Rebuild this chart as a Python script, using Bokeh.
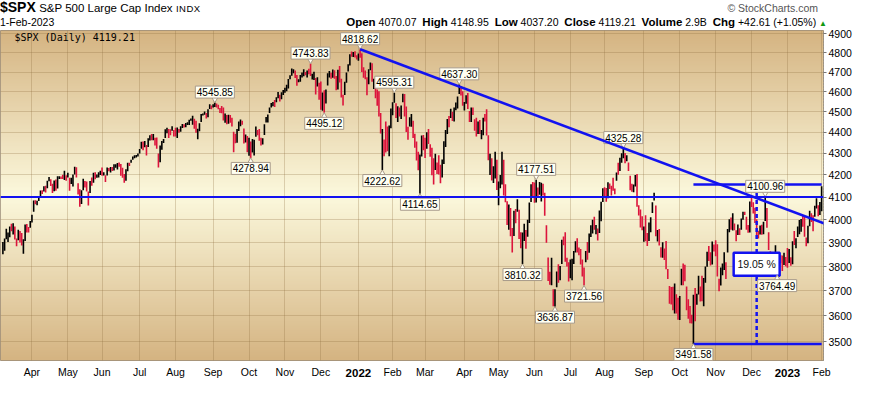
import numpy as np
import pandas as pd
from bokeh.plotting import figure
from bokeh.layouts import column
from bokeh.models import (ColumnDataSource, FixedTicker, NumeralTickFormatter,
                          Span, Arrow, Label, Div, LinearAxis)
from bokeh.embed import file_html
from bokeh.resources import INLINE
from bokeh.core.properties import value

# ---------------- header values ----------------
SYMBOL = "$SPX"
NAME = "S&amp;P 500 Large Cap Index"
EXCHANGE = "INDX"
LAST_DATE = "1-Feb-2023"
LAST_OPEN = 4070.07
LAST_HIGH = 4148.95
LAST_LOW = 4037.20
LAST_CLOSE = 4119.21
LAST_VOLUME = "2.9B"
LAST_CHG = 42.61
LAST_CHG_PCT = 1.05

# ---------------- daily data ----------------
START = "2021-03-09"
END = "2023-02-01"
HOLIDAYS = ["2021-04-02", "2021-05-31", "2021-07-05", "2021-09-06", "2021-11-25", "2021-12-24",
            "2022-01-17", "2022-02-21", "2022-04-15", "2022-05-30", "2022-06-20", "2022-07-04",
            "2022-09-05", "2022-11-24", "2022-12-26", "2023-01-02", "2023-01-16"]

HIGH = [
    # Mar 2021
    3903, 3918, 3960, 3944, 3970, 3982, 3984, 3970, 3918, 3956, 3950, 3942, 3915, 3979, 3981, 3968, 3994,
    # Apr 2021
    4021, 4084, 4086, 4083, 4098, 4129, 4131, 4148, 4151, 4173, 4191, 4180, 4160, 4175, 4179, 4194, 4194, 4193, 4201, 4219, 4199,
    # May 2021
    4210, 4187, 4187, 4202, 4238, 4236, 4162, 4135, 4131, 4183, 4172, 4170, 4125, 4172, 4188, 4210, 4213, 4202, 4213, 4219,
    # Jun 2021
    4234, 4213, 4199, 4234, 4232, 4237, 4237, 4249, 4249, 4255, 4258, 4251, 4233, 4204, 4226, 4256, 4256, 4271, 4286, 4292, 4293, 4300,
    # Jul 2021
    4321, 4355, 4356, 4359, 4340, 4372, 4387, 4393, 4393, 4375, 4376, 4300, 4337, 4359, 4369, 4415, 4423, 4416, 4415, 4430, 4412,
    # Aug 2021
    4423, 4424, 4417, 4430, 4441, 4439, 4446, 4449, 4461, 4468, 4481, 4466, 4456, 4418, 4444, 4489, 4492, 4502, 4495, 4513, 4537, 4532,
    # Sep 2021
    4537, 4545.85, 4541, 4535, 4519, 4529, 4521, 4492, 4485, 4486, 4485, 4471, 4403, 4394, 4416, 4453, 4463, 4457, 4419, 4390, 4383,
    # Oct 2021
    4375, 4356, 4369, 4365, 4429, 4412, 4416, 4375, 4372, 4439, 4475, 4487, 4521, 4544, 4549, 4559, 4572, 4599, 4585, 4597, 4609,
    # Nov 2021
    4620, 4636, 4664, 4684, 4718, 4715, 4708, 4685, 4663, 4685, 4698, 4714, 4701, 4708, 4717, 4743.83, 4691, 4702, 4670, 4673, 4646,
    # Dec 2021
    4652, 4596, 4608, 4612, 4694, 4705, 4696, 4713, 4710, 4680, 4712, 4732, 4666, 4585, 4651, 4698, 4740, 4792, 4807, 4804, 4808, 4787,
    # Jan 2022
    4797, 4818.62, 4798, 4725, 4708, 4673, 4714, 4749, 4745, 4666, 4632, 4611, 4602, 4495, 4417, 4366, 4453, 4429, 4433, 4517,
    # Feb 2022
    4547, 4595.31, 4542, 4528, 4522, 4531, 4590, 4589, 4527, 4427, 4473, 4490, 4456, 4394, 4357, 4308, 4295, 4385, 4388,
    # Mar 2022
    4375, 4401, 4416, 4343, 4327, 4277, 4299, 4258, 4292, 4247, 4272, 4358, 4412, 4465, 4480, 4515, 4500, 4521, 4546, 4576, 4637.30, 4628, 4603,
    # Apr 2022
    4549, 4583, 4594, 4504, 4521, 4521, 4464, 4471, 4453, 4460, 4412, 4471, 4489, 4513, 4386, 4299, 4278, 4240, 4308, 4270,
    # May 2022
    4170, 4200, 4308, 4270, 4158, 4081, 4067, 4051, 3964, 4039, 4047, 4090, 4043, 3945, 3944, 3982, 3955, 3999, 4075, 4158, 4168,
    # Jun 2022
    4166, 4177.51, 4143, 4168, 4164, 4160, 4119, 3975, 3838, 3778, 3837, 3707, 3707, 3779, 3809, 3802, 3913, 3927, 3945, 3837, 3818,
    # Jul 2022
    3829, 3832, 3865, 3906, 3919, 3880, 3873, 3829, 3796, 3865, 3903, 3940, 3975, 3999, 4013, 3976, 3961, 4040, 4079, 4140,
    # Aug 2022
    4144, 4141, 4167, 4161, 4151, 4187, 4138, 4211, 4257, 4280, 4301, 4325.28, 4302, 4292, 4258, 4196, 4160, 4157, 4200, 4204, 4063, 4044, 4015,
    # Sep 2022
    3970, 4019, 3942, 3987, 4010, 4077, 4119, 4062, 3955, 3959, 3881, 3902, 3876, 3907, 3790, 3720, 3716, 3717, 3730, 3687, 3672,
    # Oct 2022
    3680, 3791, 3813, 3807, 3718, 3666, 3640, 3605, 3685, 3712, 3689, 3762, 3718, 3762, 3753, 3800, 3862, 3886, 3860, 3905, 3893,
    # Nov 2022
    3911, 3894, 3750, 3796, 3813, 3860, 3818, 3959, 4002, 4009, 4028, 3983, 3954, 3979, 3962, 4005, 4034, 4034, 4012, 3976, 4080,
    # Dec 2022
    4100, 4077, 4052, 4002, 3952, 3974, 3978, 3991, 4100.96, 4051, 3945, 3864, 3855, 3838, 3889, 3842, 3846, 3847, 3846, 3858, 3840,
    # Jan 2023
    3878, 3874, 3839, 3906, 3951, 3919, 3970, 3998, 4003, 4016, 4015, 3922, 3973, 4039, 4028, 4019, 4061, 4095, 4063, 4078,
    # Feb 2023
    4148.95,
]

LOW = [
    # Mar 2021
    3851, 3866, 3915, 3903, 3924, 3949, 3935, 3914, 3885, 3911, 3901, 3888, 3853, 3908, 3944, 3944, 3965,
    # Apr 2021
    3987, 4034, 4068, 4063, 4082, 4096, 4114, 4125, 4120, 4140, 4171, 4150, 4118, 4126, 4128, 4138, 4182, 4181, 4181, 4177, 4174,
    # May 2021
    4188, 4128, 4159, 4147, 4202, 4188, 4111, 4057, 4069, 4131, 4143, 4125, 4062, 4118, 4151, 4164, 4180, 4187, 4188, 4200,
    # Jun 2021
    4197, 4198, 4168, 4198, 4217, 4211, 4218, 4221, 4233, 4225, 4238, 4196, 4187, 4165, 4173, 4217, 4241, 4257, 4271, 4278, 4281, 4286,
    # Jul 2021
    4300, 4322, 4315, 4329, 4290, 4331, 4361, 4362, 4363, 4338, 4322, 4234, 4259, 4317, 4350, 4373, 4396, 4373, 4386, 4408, 4381,
    # Aug 2021
    4381, 4373, 4398, 4403, 4421, 4424, 4425, 4436, 4436, 4456, 4437, 4418, 4398, 4367, 4406, 4451, 4482, 4486, 4468, 4474, 4514, 4513,
    # Sep 2021
    4521, 4524, 4521, 4513, 4494, 4493, 4458, 4447, 4439, 4442, 4447, 4428, 4306, 4348, 4351, 4407, 4430, 4437, 4347, 4352, 4306,
    # Oct 2021
    4289, 4278.94, 4305, 4290, 4379, 4386, 4360, 4338, 4342, 4388, 4448, 4448, 4495, 4522, 4528, 4524, 4547, 4568, 4551, 4562, 4584,
    # Nov 2021
    4595, 4603, 4616, 4663, 4681, 4694, 4670, 4630, 4648, 4651, 4672, 4679, 4684, 4672, 4689, 4680, 4662, 4659, 4586, 4626, 4560,
    # Dec 2021
    4511, 4505, 4495.12, 4541, 4632, 4672, 4666, 4671, 4666, 4607, 4611, 4647, 4571, 4531, 4584, 4645, 4703, 4734, 4780, 4778, 4775, 4765,
    # Jan 2022
    4758, 4774, 4700, 4671, 4663, 4582, 4638, 4710, 4650, 4614, 4568, 4530, 4477, 4395, 4222.62, 4287, 4304, 4310, 4287, 4420,
    # Feb 2022
    4483, 4545, 4470, 4450, 4477, 4465, 4548, 4477, 4402, 4365, 4429, 4427, 4373, 4327, 4267, 4222, 4114.65, 4286, 4315,
    # Mar 2022
    4279, 4322, 4345, 4284, 4199, 4157, 4223, 4205, 4202, 4162, 4188, 4251, 4330, 4393, 4425, 4470, 4455, 4453, 4508, 4517, 4589, 4581, 4530,
    # Apr 2022
    4507, 4540, 4514, 4451, 4450, 4485, 4408, 4381, 4392, 4392, 4367, 4387, 4453, 4385, 4268, 4200, 4175, 4163, 4184, 4132,
    # May 2022
    4063, 4140, 4157, 4107, 4077, 3976, 3956, 3928, 3859, 3929, 3984, 4034, 3916, 3877, 3810.32, 3908, 3875, 3926, 3985, 4078, 4104,
    # Jun 2022
    4074, 4075, 4098, 4110, 4080, 4107, 4017, 3900, 3740, 3725, 3723, 3639, 3636.87, 3715, 3733, 3743, 3810, 3889, 3820, 3800, 3738,
    # Jul 2022
    3752, 3743, 3811, 3859, 3859, 3847, 3808, 3759, 3721.56, 3818, 3828, 3858, 3925, 3940, 3956, 3937, 3910, 3942, 3993, 4078,
    # Aug 2022
    4097, 4079, 4095, 4136, 4107, 4128, 4112, 4174, 4201, 4218, 4256, 4277, 4254, 4263, 4218, 4130, 4124, 4121, 4147, 4057, 4018, 3966, 3954,
    # Sep 2022
    3904, 3906, 3886, 3907, 3945, 4029, 4084, 3928, 3905, 3888, 3838, 3837, 3827, 3789, 3749, 3648, 3645, 3623, 3610, 3610, 3585,
    # Oct 2022
    3584, 3723, 3723, 3739, 3623, 3589, 3572, 3571, 3491.58, 3579, 3644, 3686, 3657, 3658, 3639, 3733, 3799, 3823, 3804, 3808, 3863,
    # Nov 2022
    3843, 3759, 3699, 3722, 3764, 3786, 3749, 3859, 3945, 3956, 3953, 3954, 3906, 3933, 3933, 3956, 3999, 4020, 3956, 3943, 3944,
    # Dec 2022
    4056, 4027, 3985, 3919, 3918, 3935, 3934, 3937, 3994, 3965, 3869, 3828, 3806, 3796, 3828, 3764.49, 3798, 3814, 3781, 3806, 3801,
    # Jan 2023
    3795, 3815, 3803, 3809, 3890, 3877, 3925, 3937, 3947, 3969, 3926, 3885, 3898, 3971, 3990, 3949, 4013, 4049, 4015, 4020,
    # Feb 2023
    4037.20,
]

CLOSE = [
    # Mar 2021
    3875, 3898, 3939, 3943, 3969, 3963, 3974, 3915, 3913, 3941, 3911, 3889, 3910, 3975, 3971, 3959, 3973,
    # Apr 2021
    4020, 4078, 4074, 4080, 4097, 4129, 4128, 4142, 4125, 4170, 4185, 4163, 4135, 4173, 4135, 4180, 4188, 4187, 4183, 4211, 4181,
    # May 2021
    4192, 4165, 4168, 4201, 4233, 4189, 4152, 4063, 4113, 4174, 4164, 4128, 4116, 4160, 4156, 4198, 4188, 4196, 4201, 4204,
    # Jun 2021
    4202, 4208, 4192, 4230, 4226, 4227, 4220, 4239, 4247, 4255, 4246, 4224, 4222, 4166, 4224, 4246, 4242, 4266, 4281, 4291, 4291, 4298,
    # Jul 2021
    4320, 4352, 4344, 4358, 4320, 4370, 4385, 4369, 4374, 4360, 4327, 4259, 4324, 4359, 4368, 4412, 4422, 4401, 4400, 4419, 4395,
    # Aug 2021
    4387, 4423, 4403, 4429, 4437, 4432, 4436, 4448, 4460, 4468, 4479, 4448, 4400, 4406, 4442, 4480, 4486, 4496, 4470, 4509, 4529, 4523,
    # Sep 2021
    4524, 4537, 4535, 4520, 4514, 4493, 4459, 4469, 4443, 4481, 4474, 4433, 4358, 4355, 4396, 4449, 4455, 4443, 4353, 4360, 4308,
    # Oct 2021
    4357, 4300, 4345, 4363, 4399, 4391, 4361, 4350, 4364, 4438, 4471, 4486, 4519, 4537, 4549, 4545, 4567, 4575, 4551, 4596, 4605,
    # Nov 2021
    4614, 4631, 4660, 4680, 4697, 4701, 4685, 4646, 4649, 4683, 4683, 4701, 4688, 4704, 4698, 4682, 4691, 4701, 4595, 4655, 4567,
    # Dec 2021
    4513, 4577, 4538, 4592, 4686, 4701, 4668, 4712, 4669, 4635, 4710, 4669, 4621, 4568, 4650, 4697, 4726, 4792, 4786, 4793, 4778, 4766,
    # Jan 2022
    4797, 4794, 4701, 4696, 4677, 4670, 4713, 4726, 4659, 4663, 4577, 4533, 4483, 4398, 4410, 4357, 4350, 4327, 4432, 4516,
    # Feb 2022
    4546, 4589, 4477, 4501, 4484, 4521, 4587, 4504, 4419, 4401, 4472, 4475, 4380, 4349, 4305, 4226, 4288, 4385, 4374,
    # Mar 2022
    4306, 4387, 4363, 4329, 4201, 4171, 4278, 4260, 4204, 4173, 4262, 4358, 4412, 4463, 4461, 4512, 4456, 4520, 4543, 4575, 4632, 4602, 4530,
    # Apr 2022
    4546, 4583, 4525, 4481, 4500, 4488, 4413, 4397, 4447, 4392, 4392, 4463, 4460, 4394, 4272, 4297, 4175, 4184, 4288, 4132,
    # May 2022
    4155, 4175, 4300, 4147, 4123, 3991, 4001, 3935, 3930, 4024, 4008, 4089, 3923, 3901, 3901, 3974, 3941, 3979, 4058, 4158, 4132,
    # Jun 2022
    4101, 4176, 4109, 4121, 4161, 4116, 4018, 3901, 3750, 3735, 3790, 3667, 3675, 3765, 3760, 3796, 3912, 3901, 3821, 3819, 3785,
    # Jul 2022
    3825, 3831, 3845, 3903, 3899, 3855, 3819, 3801, 3790, 3863, 3831, 3937, 3960, 3999, 3962, 3967, 3921, 4024, 4072, 4130,
    # Aug 2022
    4119, 4091, 4155, 4152, 4145, 4140, 4122, 4210, 4208, 4280, 4297, 4305, 4275, 4284, 4228, 4138, 4128, 4141, 4199, 4058, 4031, 3986, 3955,
    # Sep 2022
    3967, 3924, 3909, 3980, 4006, 4067, 4110, 3932, 3946, 3901, 3873, 3900, 3856, 3790, 3758, 3693, 3655, 3647, 3719, 3640, 3586,
    # Oct 2022
    3678, 3791, 3783, 3745, 3640, 3612, 3589, 3577, 3670, 3583, 3677, 3720, 3695, 3666, 3752, 3797, 3859, 3831, 3807, 3901, 3872,
    # Nov 2022
    3856, 3760, 3720, 3771, 3807, 3828, 3749, 3956, 3993, 3957, 3992, 3959, 3947, 3965, 3950, 4003, 4027, 4026, 3964, 3958, 4080,
    # Dec 2022
    4077, 4072, 3999, 3941, 3933, 3964, 3934, 3991, 4019, 3995, 3896, 3852, 3818, 3821, 3879, 3823, 3845, 3829, 3783, 3849, 3840,
    # Jan 2023
    3825, 3853, 3808, 3895, 3893, 3919, 3970, 3983, 3999, 3991, 3929, 3899, 3973, 4020, 4017, 4016, 4060, 4071, 4018, 4077,
    # Feb 2023
    4119.21,
]

Y_TICKS = [3500, 3600, 3700, 3800, 3900, 4000, 4100, 4200, 4300, 4400, 4500, 4600, 4700, 4800, 4900]
Y_MIN, Y_MAX = 3429, 4918.6

LABEL_DATES = ["2021-09-02", "2021-10-04", "2021-11-22", "2021-12-03", "2022-01-04", "2022-01-24",
               "2022-02-02", "2022-02-24", "2022-03-29", "2022-05-20", "2022-06-02", "2022-06-17",
               "2022-07-14", "2022-08-16", "2022-10-13", "2022-12-13", "2022-12-22"]
LABEL_SIDES = ["high", "low", "high", "low", "high", "low", "high", "low", "high", "low", "high", "low",
               "low", "high", "low", "high", "low"]

HLINE_LEVEL = 4100
TREND_DATES = ["2022-01-04", "2022-08-16"]
RANGE_START = "2022-10-13"
MEASURE_DATE = "2022-12-06"
MEASURE_PCT = 19.05

# ---------------- derived ----------------
dates = pd.bdate_range(START, END, freq="C", holidays=HOLIDAYS)
n = len(dates)
assert len(HIGH) == len(LOW) == len(CLOSE) == n, (len(HIGH), len(LOW), len(CLOSE), n)
date_idx = {d.strftime("%Y-%m-%d"): i for i, d in enumerate(dates)}

UP, DOWN, BLUE = "#000000", "#dc143c", "#1212f0"
colors = [UP] + [UP if CLOSE[i] >= CLOSE[i - 1] else DOWN for i in range(1, n)]
src = ColumnDataSource(dict(x=list(range(n)), hi=HIGH, lo=LOW, color=colors))

month_ticks = [i for i in range(1, n) if dates[i].month != dates[i - 1].month]
month_labels = {i: ("" if dates[i].month == 1 else dates[i].strftime("%b")) for i in month_ticks}
year_ticks = [i for i in month_ticks if dates[i].month == 1]
year_labels = {i: str(dates[i].year) for i in year_ticks}

FRAME_W, FRAME_H = 823, 330
X0, X1 = -1.4, n + 0.1
PPL = FRAME_H / np.log(Y_MAX / Y_MIN)   # pixels per log unit

p = figure(frame_width=FRAME_W, frame_height=FRAME_H, output_backend="svg", toolbar_location=None,
           x_range=(X0, X1), y_range=(Y_MIN, Y_MAX), y_axis_type="log", y_axis_location="right",
           min_border_left=0, min_border_right=32, min_border_top=2, min_border_bottom=18,
           background_fill_color="#fcf9dc", border_fill_color="white")
p.outline_line_color = "#9a8b78"

# gradient background
NG = 256
t = np.abs(np.linspace(-1.0, 1.0, NG))
tan = np.array([213, 180, 130], dtype=float)
cream = np.array([252, 249, 221], dtype=float)
cols = cream[None, :] * (1 - t[:, None]) + tan[None, :] * t[:, None]
img = np.zeros((NG, 1), dtype=np.uint32)
view = img.view(dtype=np.uint8).reshape((NG, 1, 4))
view[:, 0, 0] = cols[:, 0].astype(np.uint8)
view[:, 0, 1] = cols[:, 1].astype(np.uint8)
view[:, 0, 2] = cols[:, 2].astype(np.uint8)
view[:, 0, 3] = 255
p.image_rgba(image=[img], x=X0, y=Y_MIN, dw=X1 - X0, dh=Y_MAX - Y_MIN, level="image")

# axes
yt = FixedTicker(ticks=Y_TICKS)
p.yaxis.ticker = yt
p.ygrid.ticker = yt
p.yaxis.formatter = NumeralTickFormatter(format="0")
p.yaxis.major_tick_out = 3
p.yaxis.major_tick_in = 0
p.yaxis.minor_tick_line_color = None
p.yaxis.major_label_standoff = 2
p.yaxis.axis_line_color = "#8a8a8a"
p.yaxis.axis_line_dash = "1 2"
p.yaxis.major_tick_line_color = "#777777"
p.yaxis.major_label_text_font = "Liberation Sans"
p.yaxis.major_label_text_font_size = "10.5px"
p.yaxis.major_label_text_color = "#000000"

xt = FixedTicker(ticks=month_ticks)
xaxis = p.xaxis[0]
xaxis.ticker = xt
p.xgrid.ticker = xt
xaxis.major_label_overrides = month_labels
xaxis.major_tick_out = 0
xaxis.major_tick_in = 0
xaxis.minor_tick_line_color = None
xaxis.axis_line_color = None
xaxis.major_label_standoff = 5
xaxis.major_label_text_font = "Liberation Sans"
xaxis.major_label_text_font_size = "10.5px"
xaxis.major_label_text_color = "#000000"

# bold year labels: a second axis pulled up into the month-label row
yaxis_years = LinearAxis(ticker=FixedTicker(ticks=year_ticks), major_label_overrides=year_labels,
                         major_tick_out=0, major_tick_in=0, minor_tick_line_color=None,
                         axis_line_color=None, major_label_standoff=-12,
                         major_label_text_font="Liberation Sans", major_label_text_font_style="bold",
                         major_label_text_font_size="11.5px", major_label_text_color="#000000")
p.add_layout(yaxis_years, "below")

for g in (p.xgrid, p.ygrid):
    g.grid_line_color = "#8c6a3c"
    g.grid_line_alpha = 0.28

# price bars
p.segment(x0="x", y0="lo", x1="x", y1="hi", color="color", line_width=1.6, source=src)

# horizontal support/resistance line
p.add_layout(Span(location=HLINE_LEVEL, dimension="width", line_color=BLUE, line_width=2))

# trend line through two highs, extended to the right
i1, i2 = date_idx[TREND_DATES[0]], date_idx[TREND_DATES[1]]
v1, v2 = HIGH[i1], HIGH[i2]
slope = (np.log(v2) - np.log(v1)) / (i2 - i1)
x_far = n + 30
y_far = float(np.exp(np.log(v1) + slope * (x_far - i1)))
p.add_layout(Arrow(end=None, x_start=i1, y_start=v1, x_end=x_far, y_end=y_far,
                   line_color=BLUE, line_width=2.5))

# range measurement
ir = date_idx[RANGE_START]
il = n - 1
r_low = LOW[ir]
r_top = r_low * (1 + MEASURE_PCT / 100.0)
im = date_idx[MEASURE_DATE]
p.segment(x0=[ir, ir], y0=[r_low, r_top], x1=[il, il], y1=[r_low, r_top], line_color=BLUE, line_width=2.5)
p.segment(x0=[im], y0=[r_low], x1=[im], y1=[r_top], line_color=BLUE, line_width=2.5, line_dash="4 3")
r_mid = float(np.sqrt(r_low * r_top))
p.rect(x=[im], y=[r_mid], width=46, height=23, width_units="screen", height_units="screen",
       fill_color="white", line_color=BLUE, line_width=2.5)
p.text(x=[im], y=[r_mid], text=["%.2f %%" % MEASURE_PCT], text_align="center", text_baseline="middle",
       text_font=value("Liberation Sans"), text_font_size="10.5px", text_color="#111111")

# high / low labels
lx, lbox, ltxt = [], [], []
ltri_up, ltri_dn, ltri_up_x, ltri_dn_x = [], [], [], []
for d, side in zip(LABEL_DATES, LABEL_SIDES):
    i = date_idx[d]
    v = HIGH[i] if side == "high" else LOW[i]
    sgn = 1 if side == "high" else -1
    lx.append(i)
    lbox.append(v * np.exp(sgn * 10.5 / PPL))
    ltxt.append("%.2f" % v)
    if side == "high":
        ltri_dn.append(v * np.exp(4.5 / PPL)); ltri_dn_x.append(i)
    else:
        ltri_up.append(v * np.exp(-4.5 / PPL)); ltri_up_x.append(i)

BOX_FILL, BOX_LINE = "#fffff2", "#a89a8a"
p.scatter(x=ltri_dn_x, y=ltri_dn, marker="inverted_triangle", size=8, fill_color=BOX_FILL, line_color=BOX_LINE)
p.scatter(x=ltri_up_x, y=ltri_up, marker="triangle", size=8, fill_color=BOX_FILL, line_color=BOX_LINE)
p.rect(x=lx, y=lbox, width=39, height=12, width_units="screen", height_units="screen",
       fill_color=BOX_FILL, line_color=BOX_LINE, line_width=1)
p.text(x=lx, y=lbox, text=ltxt, text_align="center", text_baseline="middle",
       text_font=value("Liberation Sans"), text_font_size="10px", text_color="#000000")

# in-plot title
p.add_layout(Label(x=14, y=FRAME_H - 7, x_units="screen", y_units="screen",
                   text="%s (Daily) %.2f" % (SYMBOL, LAST_CLOSE), text_font="DejaVu Sans Mono",
                   text_font_size="10px", text_baseline="middle", text_color="#000000"))

# header
B = '<b style="font-size:11.5px">%s</b>'
ohlc = (B % "Open" + " %.2f &nbsp;" % LAST_OPEN + B % "High" + " %.2f &nbsp;" % LAST_HIGH
        + B % "Low" + " %.2f &nbsp;" % LAST_LOW + B % "Close" + " %.2f &nbsp;" % LAST_CLOSE
        + B % "Volume" + " %s &nbsp;" % LAST_VOLUME + B % "Chg" + " %+.2f (%+.2f%%)" % (LAST_CHG, LAST_CHG_PCT))
html = f"""
<div style="position:relative;width:855px;height:28px;font-family:'Liberation Sans',Arial,sans-serif;color:#000;">
  <div style="position:absolute;left:0;top:0;white-space:nowrap;line-height:15px;height:15px;">
    <span style="font-size:14px;font-weight:bold;">{SYMBOL}</span>
    <span style="font-size:11.5px;">{NAME}</span>
    <span style="font-size:9.5px;letter-spacing:0.5px;">{EXCHANGE}</span>
  </div>
  <div style="position:absolute;right:37px;top:2px;font-size:10.5px;line-height:12px;color:#555;white-space:nowrap;">&copy; StockCharts.com</div>
  <div style="position:absolute;left:0;top:16px;font-size:10.5px;line-height:12px;white-space:nowrap;">{LAST_DATE}</div>
  <div style="position:absolute;right:28px;top:16px;font-size:10.5px;line-height:12px;white-space:nowrap;">{ohlc} <span style="color:#119911;font-size:8px;">&#9650;</span></div>
</div>
"""
header = Div(text=html, width=855, height=28, margin=(0, 0, 0, 0))

layout = column(header, p, spacing=0)
open("out.html", "w").write(file_html(layout, INLINE))
